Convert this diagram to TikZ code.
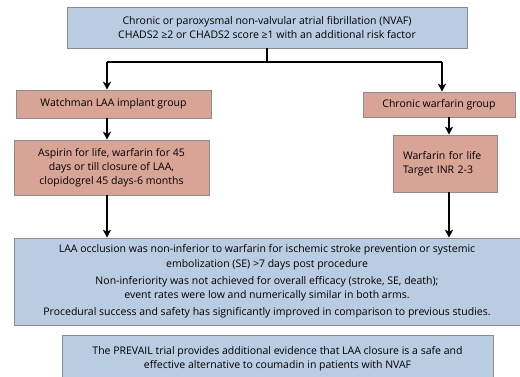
\documentclass[tikz,border=0pt]{standalone}
\usepackage{fontspec}
\setmainfont{Open Sans}
\usetikzlibrary{arrows.meta}
\definecolor{boxblue}{RGB}{186,204,226}
\definecolor{boxrose}{RGB}{215,164,149}
\definecolor{boxedge}{RGB}{140,140,140}
\begin{document}
\begin{tikzpicture}[x=1pt, y=-1pt]
	\tikzstyle{every node} = [inner sep=0pt, align=center, font=\fontsize{10.5}{14}\selectfont]
	\tikzstyle{bluebox} = [draw=boxedge, fill=boxblue, line width=0.6pt]
	\tikzstyle{rosebox} = [draw=boxedge, fill=boxrose, line width=0.6pt]
	\tikzstyle{flow} = [line width=1.3pt, -{Stealth[length=8pt, width=8pt, inset=2pt]}]
	\clip (0,0) rectangle (520,376);
	\fill[white] (0,0) rectangle (520,376);
	\node[bluebox, minimum width=400, minimum height=41] (nvaf) at (267, 27.5) {Chronic or paroxysmal non-valvular atrial fibrillation (NVAF)\\CHADS2 ≥2 or CHADS2 score ≥1 with an additional risk factor};
	\node[rosebox, minimum width=195, minimum height=28] (watchman) at (113.5, 104) {Watchman LAA implant group};
	\node[rosebox, minimum width=195, minimum height=55] (aspirin) at (111.5, 167.5) {Aspirin for life, warfarin for 45\\days or till closure of LAA,\\clopidogrel 45 days-6 months};
	\node[rosebox, minimum width=152, minimum height=25] (chronic) at (439, 104.5) {Chronic warfarin group};
	\node[rosebox, minimum width=104, minimum height=57, align=left, text width=84, inner xsep=10pt] (warfarin) at (445, 163.5) {Warfarin for life\\Target INR 2-3};
	\node[bluebox, minimum width=506, minimum height=87, font=\fontsize{10.5}{14.5}\selectfont] (outcome) at (267, 281.5) {LAA occlusion was non-inferior to warfarin for ischemic stroke prevention or systemic\\embolization (SE) >7 days post procedure\\[2.5pt]Non-inferiority was not achieved for overall efficacy (stroke, SE, death);\\event rates were low and numerically similar in both arms.\\[2.5pt]Procedural success and safety has significantly improved in comparison to previous studies.};
	\node[bluebox, minimum width=431, minimum height=48] (prevail) at (277.5, 359) {The PREVAIL trial provides additional evidence that LAA closure is a safe and\\effective alternative to coumadin in patients with NVAF};
	\coordinate (split) at (267, 62);
	\coordinate (lcol) at (107, 62);
	\coordinate (rcol) at (442, 62);
	\coordinate (rcol2) at (449, 62);
	\draw [line width=1.3pt] (nvaf.south) -- (split);
	\draw [line width=1.3pt] (lcol) -- (rcol);
	\draw [flow] (lcol) -- (lcol |- watchman.north);
	\draw [flow] (rcol) -- (rcol |- chronic.north);
	\draw [flow] (lcol |- watchman.south) -- (lcol |- aspirin.north);
	\draw [flow] (rcol2 |- chronic.south) -- (rcol2 |- warfarin.north);
	\draw [flow] (lcol |- aspirin.south) -- (lcol |- outcome.north);
	\draw [flow] (rcol2 |- warfarin.south) -- (rcol2 |- outcome.north);
\end{tikzpicture}
\end{document}
